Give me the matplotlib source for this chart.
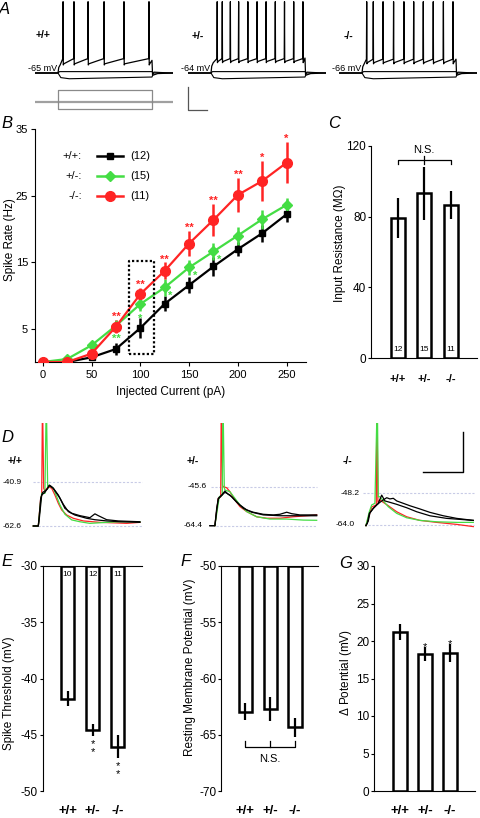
import matplotlib
matplotlib.use('Agg')
import matplotlib.pyplot as plt
import numpy as np

plt.rcParams['font.family'] = ['Liberation Sans', 'DejaVu Sans']
plt.rcParams['mathtext.fontset'] = 'custom'
plt.rcParams['mathtext.it'] = 'Liberation Sans:italic'
plt.rcParams['mathtext.rm'] = 'Liberation Sans'
plt.rcParams['axes.unicode_minus'] = False
plt.rcParams['axes.linewidth'] = 0.8

# ---------------- data ----------------
genotypes = ['+/+', '+/-', '-/-']

# A: example spike trains (ms) and resting potentials (mV)
resting_A = [-65, -64, -66]
spikes_wt = [27, 85, 160, 245, 351, 484]
spikes_het = [33, 60, 103, 147, 196, 245, 293, 342, 391, 440, 489]
spikes_ko = [25, 60, 112, 168, 223, 275, 326, 379, 433, 484]
ahp_trough = [8, 10, 9]        # mV above rest
pre_spike = [12.5, 12.5, 12]   # mV above rest
stim_steps = [150, -90]        # pA

# B: F-I curves
currents = [0, 25, 50, 75, 100, 125, 150, 175, 200, 225, 250]
rate_wt = [0, 0, 0.7, 1.95, 5.1, 8.75, 11.55, 14.35, 16.95, 19.35, 22.2]
err_wt = [0, 0, 0.3, 0.9, 1.5, 1.1, 1.25, 1.4, 1.1, 1.3, 1.2]
rate_het = [0, 0.45, 2.5, 5.45, 8.7, 11.2, 14.2, 16.6, 19.0, 21.45, 23.6]
err_het = [0, 0.2, 0.4, 0.9, 1.1, 1.25, 1.1, 1.25, 1.35, 1.4, 1.1]
rate_ko = [0, 0, 1.25, 5.3, 10.2, 13.7, 17.8, 21.35, 25.1, 27.2, 29.95]
err_ko = [0, 0, 0.3, 1.0, 0.9, 1.25, 1.95, 2.4, 2.6, 3.0, 3.1]
sig_ko = ['', '', '', '**', '**', '**', '**', '**', '**', '*', '*']
sig_het = ['', '', '', '**', '*', '*', '*', '*', '', '', '']
n_cells = [12, 15, 11]

# C: input resistance (MOhm)
input_res = [79.4, 93.1, 86.5]
input_res_err = [11.3, 15.0, 7.7]

# D: spike-onset traces (ms, mV)
d_thresh = [-40.9, -45.6, -48.2]
d_rest = [-62.6, -64.4, -64.0]
d_wt_black1 = [(0, -62.6), (2.5, -62.6), (3.0, -57.2), (3.7, -48.9), (4.7, -46.0), (5.8, -45.3), (7.0, -44.4),
               (8.0, -42.4), (9.2, -43.2), (10, -44.0), (12.5, -47.3), (15, -51.9), (17.5, -55.5), (20.8, -57.2),
               (26.7, -58.8), (30.8, -59.5), (36.7, -60.1), (43.3, -60.5), (53.3, -60.8)]
d_wt_black2 = [(0, -62.6), (2.5, -62.6), (3.0, -59.0), (3.7, -52.2), (4.2, -47.3), (5.8, -46.0), (8.0, -42.7),
               (10, -44.0), (13.3, -48.9), (15.8, -53.9), (19.2, -56.3), (23.3, -57.5), (28.3, -58.5),
               (30.8, -56.6), (32.5, -57.5), (36.7, -59.5), (42.5, -60.1), (53.3, -60.5)]
d_wt_red = [(0, -62.6), (2.5, -62.6), (3.7, -48.9), (4.2, -47.5), (4.6, 0), (5.2, -44.0), (5.8, -45.3),
            (7.5, -43.2), (9.2, -44.0), (10.8, -47.3), (12.5, -51.4), (14.2, -54.7), (16.7, -57.2), (20, -58.8),
            (25, -60.1), (33.3, -60.8), (41.7, -61.1), (46.7, -61.3), (53.3, -60.8)]
d_wt_green = [(0, -62.6), (2.5, -62.6), (3.5, -52.0), (4.2, -46.5), (5.8, -46.5), (6.5, 0), (7.2, -44.0),
              (8.0, -42.7), (10, -44.0), (11.7, -48.1), (13.3, -52.2), (15.8, -56.8), (19.2, -59.6),
              (23.3, -60.5), (28.3, -61.3), (36.7, -60.8), (43.3, -60.5), (53.3, -60.5)]
d_het_black1 = [(-1.7, -64.4), (0.8, -64.4), (1.7, -56.0), (2.5, -51.2), (4.2, -49.6), (5.8, -47.7), (7.5, -49.3),
                (9.2, -50.4), (10.8, -52.0), (13.3, -54.4), (16.7, -56.8), (20, -57.9), (25, -58.9), (30, -59.2),
                (33.3, -58.9), (36.7, -57.9), (39.2, -58.6), (43.3, -59.2), (51.7, -59.2)]
d_het_black2 = [(-1.7, -64.4), (0.8, -64.4), (1.7, -57.0), (2.5, -51.5), (5.8, -48.3), (8.3, -49.6), (11.7, -53.1),
                (15, -56.0), (19.2, -57.9), (25, -59.2), (33.3, -59.6), (41.7, -59.6), (51.7, -59.6)]
d_het_red = [(0.8, -64.4), (2.5, -51.2), (3.7, -50.4), (4.0, 0), (4.6, -45.0), (5.0, -45.6), (6.7, -46.1),
             (8.3, -48.0), (10.8, -52.0), (13.3, -55.2), (16.7, -57.6), (21.7, -60.1), (26.7, -60.8),
             (33.3, -60.8), (40, -60.1), (46.7, -59.6), (51.7, -59.2)]
d_het_green = [(0.8, -64.4), (3.0, -50.4), (4.5, -49.6), (4.8, 0), (5.5, -46.0), (5.8, -47.2), (8.3, -48.0),
               (10.8, -51.2), (13.3, -54.4), (16.7, -57.6), (21.7, -60.1), (28.3, -61.2), (36.7, -61.2),
               (45, -61.7), (51.7, -61.8)]
d_ko_black1 = [(1.3, -64.3), (2.0, -63.2), (3.0, -58.2), (3.7, -57.4), (5.0, -55.7), (6.7, -54.0), (8.3, -52.7),
               (10, -51.5), (11.7, -50.4), (13.3, -51.0), (15, -50.7), (16.7, -52.0), (20, -53.2), (23.3, -54.4),
               (28.3, -56.0), (33.3, -57.7), (40, -59.4), (46.7, -60.7), (55, -61.7)]
d_ko_black2 = [(1.3, -64.3), (2.5, -62.0), (3.3, -58.0), (5.0, -55.7), (7.5, -53.2), (9.2, -49.1), (10.8, -52.0),
               (13.3, -52.7), (16.7, -53.7), (21.7, -55.4), (26.7, -57.4), (33.3, -59.4), (41.7, -60.7),
               (55, -61.7)]
d_ko_red = [(1.3, -64.3), (3.3, -58.0), (4.2, -55.0), (6.5, -54.0), (6.8, 0), (7.3, -52.7), (8.3, -51.5),
            (10, -52.7), (12.5, -54.4), (16.7, -57.4), (21.7, -59.9), (28.3, -61.7), (36.7, -62.7),
            (46.7, -63.7), (55, -64.8)]
d_ko_green = [(1.3, -64.3), (3.0, -57.4), (4.2, -54.0), (5.8, -53.2), (7.0, 0), (7.5, -50.0), (8.3, -49.9),
              (10, -52.0), (12.5, -54.9), (16.7, -58.2), (21.7, -60.4), (28.3, -61.7), (36.7, -62.4),
              (46.7, -62.7), (55, -62.7)]

# E: spike threshold (mV)
spike_thr = [-41.8, -44.6, -46.06]
spike_thr_err = [0.67, 0.55, 1.04]
n_E = [10, 12, 11]
sig_E = ['', '**', '**']

# F: resting membrane potential (mV)
rmp = [-62.95, -62.7, -64.34]
rmp_err = [0.77, 1.1, 0.83]

# G: delta potential (mV)
dpot = [21.24, 18.27, 18.36]
dpot_err = [1.07, 0.87, 1.18]
sig_G = ['', '*', '*']

RED = '#ff2424'
GREEN = '#44dd44'

# ---------------- figure ----------------
W, H = 480, 818
fig = plt.figure(figsize=(W / 100, H / 100), dpi=100)


def add_ax(x0, y0, x1, y1):
    return fig.add_axes([x0 / W, 1 - y1 / H, (x1 - x0) / W, (y1 - y0) / H])


def ftext(px, py, s, **kw):
    fig.text(px / W, 1 - py / H, s, **kw)


def set_ylab(ax, s, cx, cy, size=8.5):
    ax.set_ylabel(s, fontsize=size)
    ax.yaxis.label.set_verticalalignment('center')
    ax.yaxis.set_label_coords(cx / W, 1 - cy / H, transform=fig.transFigure)


# panel letters
for letter, (px, py) in zip('ABCDEFG', [(4, 9), (7, 124), (334, 124), (7, 438), (7, 562), (185.5, 562), (345.5, 563)]):
    ftext(px, py, letter, fontsize=12, style='italic', ha='center', va='center')

# ---------------- A ----------------
A_step_px = [58, 211, 362]
A_scale = 0.188
A_tlim = (-125, 610)
spike_sets = [spikes_wt, spikes_het, spikes_ko]
axA = []
for k in range(3):
    x0 = A_step_px[k] + A_tlim[0] * A_scale
    x1 = A_step_px[k] + A_tlim[1] * A_scale
    ax = add_ax(x0, 0, x1, 86)
    axA.append(ax)
    base = resting_A[k]
    ax.set_xlim(*A_tlim)
    ax.set_ylim(base - 13 / 1.15, base + 73 / 1.15)
    ax.axis('off')
    tr, pr = ahp_trough[k], pre_spike[k]
    t = [A_tlim[0], 0, 4, 12]
    v = [0, 0, tr * 0.6, tr * 0.9]
    for s in spike_sets[k]:
        t += [s - 1.5, s, s + 1.2, s + 4]
        v += [pr, 62, tr - 1, tr]
    t += [500, 503, 530, A_tlim[1]]
    v += [tr + 3, -2, -0.5, 0]
    ax.plot(t, base + np.array(v), color='black', lw=0.9)
    ax.plot([A_tlim[0], 0, 8, 500, 506, A_tlim[1]], base + np.array([0, 0, 1.2, 1.2, 0, 0]), color='black', lw=0.8)
    ax.plot([A_tlim[0], 0, 15, 60, 500, 510, 540, A_tlim[1]],
            base + np.array([0, 0, -4, -5, -3.5, 0.8, 0.5, 0]), color='black', lw=0.8)
    ax.text(-3, base + 0.2, '%d mV' % base, fontsize=6.5, ha='right', va='bottom')

for (px, py), g in zip([(43.5, 35), (197.5, 36), (348, 36)], genotypes):
    ftext(px, py, g, fontsize=7.5, fontweight='bold', ha='center', va='center')

# stimulus protocol under +/+
x0 = A_step_px[0] + A_tlim[0] * A_scale
x1 = A_step_px[0] + A_tlim[1] * A_scale
axS = add_ax(x0, 86, x1, 112)
axS.set_xlim(*A_tlim)
axS.set_ylim(-125, 200)
axS.axis('off')
axS.plot(A_tlim, [0, 0], color='#a0a0a0', lw=1.6)
for I in stim_steps:
    axS.plot([0, 0, 500, 500], [0, I, I, 0], color='#8a8a8a', lw=0.9)

# A scale bar (100 ms, 20 mV) in +/- axes
bx, by = -120, resting_A[1] - 37 / 1.15
axA[1].plot([bx, bx, bx + 100], [by + 20, by, by], color='#555555', lw=0.9, clip_on=False)

# ---------------- B ----------------
axB = add_ax(35, 129, 306, 362)
axB.set_xlim(-7.9, 269.8)
axB.set_ylim(0, 35)
for sp in ['top', 'right']:
    axB.spines[sp].set_visible(False)
axB.set_yticks([5, 15, 25, 35])
axB.set_xticks([0, 50, 100, 150, 200, 250])
axB.tick_params(direction='out', length=3, width=0.8, labelsize=8, pad=2)
axB.tick_params(axis='x', pad=3)
axB.set_xlabel('Injected Current (pA)', fontsize=8.5, labelpad=4)
set_ylab(axB, 'Spike Rate (Hz)', 10.5, 240)

series = [(rate_wt, err_wt, 'black', 's', 5), (rate_het, err_het, GREEN, 'D', 5), (rate_ko, err_ko, RED, 'o', 7)]
for vals, errs, col, mk, ms in series:
    axB.errorbar(currents, vals, yerr=errs, color=col, lw=1.6, elinewidth=1.8, capsize=0,
                 marker=mk, markersize=ms, markeredgecolor=col, markerfacecolor=col, zorder=3)

for c, v, e, s in zip(currents, rate_ko, err_ko, sig_ko):
    if s:
        axB.text(c, v + e, s, color=RED, fontsize=8, fontweight='bold', ha='center', va='baseline', zorder=5)
for i, (c, v, e, s) in enumerate(zip(currents, rate_het, err_het, sig_het)):
    if s:
        if c <= 100:
            axB.text(c, v - e - 1.55, s, color=GREEN, fontsize=8, fontweight='bold', ha='center', va='baseline',
                     zorder=5)
        else:
            axB.text(c + 6, v - 1.7, s, color=GREEN, fontsize=8, fontweight='bold', ha='center', va='baseline',
                     zorder=5)

# dotted box
axB.plot([88.4, 114, 114, 88.4, 88.4], [1.2, 1.2, 15.2, 15.2, 1.2], color='black', lw=1.6, ls=(0, (1, 1)), zorder=4)

# legend
for i, (g, (vals, errs, col, mk, ms), n) in enumerate(zip(genotypes, series, n_cells)):
    y = 31 - 3 * i
    axB.text(40.3, y, g + ':', fontsize=8, ha='right', va='center')
    axB.plot([55.6, 82.3], [y, y], color=col, lw=1.8)
    axB.plot([69], [y], marker=mk, markersize=ms, color=col)
    axB.text(89.4, y, '(%d)' % n, fontsize=8, ha='left', va='center')

# ---------------- C ----------------
axC = add_ax(371, 145.7, 476.7, 358.3)
axC.set_xlim(-1.01, 2.98)
axC.set_ylim(0, 120)
for sp in ['top', 'right']:
    axC.spines[sp].set_visible(False)
xs = np.arange(3)
axC.bar(xs, input_res, width=0.53, color='white', edgecolor='black', lw=1.8, zorder=2)
axC.errorbar(xs, input_res, yerr=input_res_err, fmt='none', ecolor='black', elinewidth=1.6, capsize=0, zorder=3)
axC.set_yticks([0, 40, 80, 120])
axC.set_xticks(xs)
axC.set_xticklabels(genotypes, fontweight='bold', fontsize=8)
axC.tick_params(axis='y', direction='out', length=2.5, labelsize=8.5, pad=1)
axC.tick_params(axis='x', length=0, pad=11)
set_ylab(axC, 'Input Resistance (M\u03a9)', 340, 243)
for x, n in zip(xs, n_cells):
    axC.text(x, 4.7, str(n), fontsize=6, ha='center', va='center', zorder=4)
axC.plot([0, 0, 2, 2], [109.6, 112, 112, 109.6], color='black', lw=0.9)
axC.plot([1, 1], [109.6, 114], color='black', lw=0.9)
axC.text(1, 114.5, 'N.S.', fontsize=8, ha='center', va='bottom')

# ---------------- D ----------------
D_origin_px = [33.3, 213.3, 363.3]
D_top_py, D_bot_py = 423, 531
D_thr_py = [482, 486.7, 493.3]
D_rest_py = [526, 525.7, 525]
D_traces = [
    (d_wt_black1, d_wt_black2, d_wt_red, d_wt_green),
    (d_het_black1, d_het_black2, d_het_red, d_het_green),
    (d_ko_black1, d_ko_black2, d_ko_red, d_ko_green),
]
D_lab_t = [(-5.8, -5.8), (-3.3, -5.3), (-2.0, -4.2)]
D_line_start = [(0, 2.5), (-1, 1.5), (0, 2.5)]
D_line_end = [54.2, 51.7, 55.3]
axD = []
for k in range(3):
    ax = add_ax(D_origin_px[k] - 4, D_top_py, D_origin_px[k] + 112, D_bot_py)
    axD.append(ax)
    mv_per_px = (d_thresh[k] - d_rest[k]) / (D_rest_py[k] - D_thr_py[k])
    ax.set_xlim(-2, 56)
    ax.set_ylim(d_rest[k] - (D_bot_py - D_rest_py[k]) * mv_per_px,
                d_rest[k] + (D_rest_py[k] - D_top_py) * mv_per_px)
    ax.axis('off')
    ax.plot([D_line_start[k][0], D_line_end[k]], [d_thresh[k]] * 2, color='#c8cbe6', lw=0.8, ls=(0, (2, 1.5)))
    ax.plot([D_line_start[k][1], D_line_end[k]], [d_rest[k]] * 2, color='#c8cbe6', lw=0.8, ls=(0, (2, 1.5)))
    b1, b2, r, g = D_traces[k]
    for tr, col in [(r, RED), (g, GREEN), (b1, 'black'), (b2, 'black')]:
        tt, vv = zip(*tr)
        ax.plot(tt, vv, color=col, lw=0.9)
    ax.text(D_lab_t[k][0], d_thresh[k], '%.1f' % d_thresh[k], fontsize=6, ha='right', va='center', clip_on=False)
    ax.text(D_lab_t[k][1], d_rest[k], '%.1f' % d_rest[k], fontsize=6, ha='right', va='center', clip_on=False)

for (px, py), g in zip([(15, 461), (192.5, 461.5), (347, 461.5)], genotypes):
    ftext(px, py, g, fontsize=7.5, fontweight='bold', ha='center', va='center')

# D scale bar (20 ms, 20 mV)
axD[2].plot([30, 50, 50], [-37.6, -37.6, -17.6], color='black', lw=1.0, clip_on=False)


# ---------------- E, F, G ----------------
def bar_panel(box, ylim, ref, vals, errs, yticks, ylabel, lab_pos, top_axis):
    ax = add_ax(*box)
    ax.set_ylim(*ylim)
    ax.spines['right'].set_visible(False)
    if top_axis:
        ax.spines['bottom'].set_visible(False)
    else:
        ax.spines['top'].set_visible(False)
    ax.bar(xs, np.array(vals) - ref, bottom=ref, width=0.53, color='white', edgecolor='black', lw=1.8, zorder=2)
    ax.errorbar(xs, vals, yerr=errs, fmt='none', ecolor='black', elinewidth=1.6, capsize=0, zorder=3)
    ax.set_yticks(yticks)
    ax.set_xticks(xs)
    ax.set_xticklabels(genotypes, fontweight='bold', fontsize=9.5)
    ax.tick_params(axis='y', direction='out', length=2.5, labelsize=8.5, pad=1)
    ax.tick_params(axis='x', length=0, pad=10)
    set_ylab(ax, ylabel, *lab_pos)
    return ax


axE = bar_panel((42.7, 566, 141.7, 791), (-50, -30), -30, spike_thr, spike_thr_err,
                [-30, -35, -40, -45, -50], 'Spike Threshold (mV)', (8.7, 693), True)
axE.set_xlim(-0.99, 2.96)
for x, n in zip(xs, n_E):
    axE.text(x, -30.75, str(n), fontsize=6, ha='center', va='center', zorder=4)
for x, v, e, s in zip(xs, spike_thr, spike_thr_err, sig_E):
    if s:
        for j in range(len(s)):
            axE.text(x, v - e - 0.95 - 0.75 * j, '*', fontsize=8, ha='center', va='baseline')

axF = bar_panel((221, 566, 318, 791), (-70, -50), -50, rmp, rmp_err,
                [-50, -55, -60, -65, -70], 'Resting Membrane Potential (mV)', (189.5, 667), True)
axF.set_xlim(-0.98, 2.93)
axF.plot([0, 0, 2, 2], [-65.55, -66.1, -66.1, -65.55], color='black', lw=0.9)
axF.plot([1, 1], [-65.55, -66.1], color='black', lw=0.9)
axF.text(1, -67.2, 'N.S.', fontsize=8, ha='center', va='center')

axG = bar_panel((374.3, 566, 475, 791), (0, 30), 0, dpot, dpot_err,
                [0, 5, 10, 15, 20, 25, 30], r'$\mathit{\Delta}$ Potential (mV)', (345.7, 673), False)
axG.set_xlim(-1.03, 3.0)
for x, v, e, s in zip(xs, dpot, dpot_err, sig_G):
    if s:
        axG.text(x, v + e - 0.4, s, fontsize=8, ha='center', va='baseline')

fig.savefig('out.png', dpi=100)
